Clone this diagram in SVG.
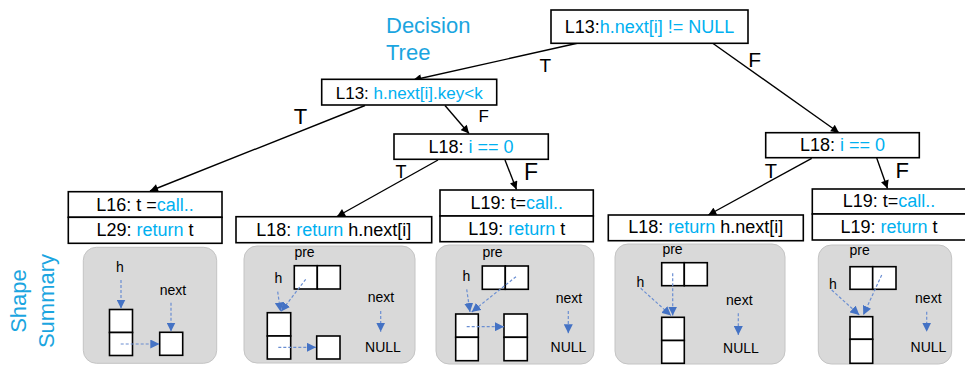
<svg xmlns="http://www.w3.org/2000/svg" width="965" height="366" viewBox="0 0 965 366">
  <style>
    text { font-family: "Liberation Sans", Arial, sans-serif; }
    .box { fill: #ffffff; stroke: #000000; stroke-width: 1.6; }
    .code { font-size: 18px; fill: #000000; }
    .kw { fill: #00b0f0; }
    .title { font-size: 22px; fill: #1ba5e0; }
    .edge { stroke: #000000; stroke-width: 1.4; fill: none; marker-end: url(#arrow); }
    .lbl { font-size: 20px; fill: #000000; text-anchor: middle; }
    .panel { fill: #d9d9d9; stroke: #c4c4c4; stroke-width: 1; }
    .cell { fill: #ffffff; stroke: #000000; stroke-width: 1.6; }
    .ptr { stroke: #6a8ed2; stroke-width: 1.2; stroke-dasharray: 3 2; fill: none; marker-end: url(#ptrhead); }
    .var { font-size: 14px; fill: #000000; text-anchor: middle; }
  </style>
  <defs>
    <marker id="arrow" viewBox="0 0 10 10" refX="10" refY="5" markerWidth="9" markerHeight="8" markerUnits="userSpaceOnUse" orient="auto">
      <path d="M0,0 L10,5 L0,10 z" fill="#000000"/>
    </marker>
    <marker id="ptrhead" viewBox="0 0 10 10" refX="10" refY="5" markerWidth="9" markerHeight="9" markerUnits="userSpaceOnUse" orient="auto">
      <path d="M0,0 L10,5 L0,10 z" fill="#4472c4"/>
    </marker>
  </defs>

  <!-- headings -->
  <text class="title" x="386" y="33.3">Decision</text>
  <text class="title" x="386" y="60">Tree</text>
  <text class="title" transform="translate(26,301) rotate(-90)" text-anchor="middle">Shape</text>
  <text class="title" transform="translate(54,301) rotate(-90)" text-anchor="middle">Summary</text>

  <!-- tree edges -->
  <g id="edges">
    <line class="edge" x1="577.3" y1="43.3" x2="413.3" y2="80"/>
    <line class="edge" x1="712.7" y1="43.3" x2="839" y2="132.7"/>
    <line class="edge" x1="365" y1="105.5" x2="150" y2="191"/>
    <line class="edge" x1="445" y1="105.5" x2="469" y2="133.5"/>
    <line class="edge" x1="438" y1="160" x2="337" y2="216.5"/>
    <line class="edge" x1="505" y1="160" x2="516.5" y2="189.5"/>
    <line class="edge" x1="811.7" y1="158.3" x2="708.3" y2="215"/>
    <line class="edge" x1="876.7" y1="158" x2="887.5" y2="188.5"/>
    <text class="lbl" x="545.3" y="71.7" style="font-size:19px">T</text>
    <text class="lbl" x="754.6" y="66.7" style="font-size:21px">F</text>
    <text class="lbl" x="300.5" y="124" style="font-size:22px">T</text>
    <text class="lbl" x="483.8" y="121.7" style="font-size:17px">F</text>
    <text class="lbl" x="401" y="178" style="font-size:18px">T</text>
    <text class="lbl" x="531" y="180" style="font-size:23px">F</text>
    <text class="lbl" x="770.8" y="178" style="font-size:20px">T</text>
    <text class="lbl" x="902.3" y="178" style="font-size:22px">F</text>
  </g>

  <!-- decision nodes -->
  <g id="n-root">
    <rect class="box" x="551" y="10" width="197" height="33.3"/>
    <text class="code" x="649.5" y="33.3" text-anchor="middle">L13:<tspan class="kw">h.next[i] != NULL</tspan></text>
  </g>
  <g id="n-key">
    <rect class="box" x="321.7" y="79.3" width="175" height="25.7"/>
    <text class="code" x="409.2" y="98.5" text-anchor="middle" style="font-size:17px">L13: <tspan class="kw">h.next[i].key&lt;k</tspan></text>
  </g>
  <g id="n-i0-left">
    <rect class="box" x="394" y="134" width="154.3" height="25.3"/>
    <text class="code" x="471" y="152.7" text-anchor="middle">L18: <tspan class="kw">i == 0</tspan></text>
  </g>
  <g id="n-i0-right">
    <rect class="box" x="765.7" y="132.7" width="153.6" height="25"/>
    <text class="code" x="842.5" y="151" text-anchor="middle">L18: <tspan class="kw">i == 0</tspan></text>
  </g>

  <!-- leaf nodes -->
  <g id="n-call-a">
    <rect class="box" x="68.3" y="191.7" width="153.7" height="25.6"/>
    <rect class="box" x="68.3" y="217.3" width="153.7" height="26"/>
    <text class="code" x="145" y="210.7" text-anchor="middle">L16: t =<tspan class="kw">call..</tspan></text>
    <text class="code" x="145" y="236" text-anchor="middle">L29: <tspan class="kw">return</tspan> t</text>
  </g>
  <g id="n-ret-a">
    <rect class="box" x="236" y="216.7" width="195.7" height="26"/>
    <text class="code" x="333.8" y="236" text-anchor="middle">L18: <tspan class="kw">return</tspan> h.next[i]</text>
  </g>
  <g id="n-call-b">
    <rect class="box" x="440" y="190" width="153.3" height="26"/>
    <rect class="box" x="440" y="216" width="153.3" height="25.7"/>
    <text class="code" x="516.7" y="209.3" text-anchor="middle">L19: t=<tspan class="kw">call..</tspan></text>
    <text class="code" x="516.7" y="235" text-anchor="middle">L19: <tspan class="kw">return</tspan> t</text>
  </g>
  <g id="n-ret-b">
    <rect class="box" x="608.3" y="215" width="195" height="25.7"/>
    <text class="code" x="705.8" y="233.3" text-anchor="middle">L18: <tspan class="kw">return</tspan> h.next[i]</text>
  </g>
  <g id="n-call-c">
    <rect class="box" x="812.3" y="189" width="154" height="25"/>
    <rect class="box" x="812.3" y="214" width="154" height="26"/>
    <text class="code" x="889" y="207.3" text-anchor="middle">L19: t=<tspan class="kw">call..</tspan></text>
    <text class="code" x="889" y="232.7" text-anchor="middle">L19: <tspan class="kw">return</tspan> t</text>
  </g>

  <!-- shape summaries -->
  <g id="shape-1">
    <rect class="panel" x="83.3" y="247.3" width="133.4" height="116" rx="13"/>
    <text class="var" x="120" y="271.7">h</text>
    <text class="var" x="173" y="295">next</text>
    <rect class="cell" x="109.5" y="309.5" width="23" height="23"/>
    <rect class="cell" x="109.5" y="332.5" width="23" height="23"/>
    <rect class="cell" x="159.7" y="332.3" width="23" height="23"/>
    <line class="ptr" x1="121" y1="280" x2="121" y2="308.5"/>
    <line class="ptr" x1="171" y1="302.7" x2="171" y2="331.5"/>
    <line class="ptr" x1="120.7" y1="344" x2="159.3" y2="344"/>
  </g>
  <g id="shape-2">
    <rect class="panel" x="244" y="246" width="171" height="117" rx="13"/>
    <text class="var" x="304.5" y="256.7">pre</text>
    <text class="var" x="278.3" y="283.3">h</text>
    <text class="var" x="381" y="301.7">next</text>
    <text class="var" x="383" y="352.3">NULL</text>
    <rect class="cell" x="294.3" y="265.7" width="23" height="23.3"/>
    <rect class="cell" x="317.3" y="265.7" width="23" height="23.3"/>
    <rect class="cell" x="267.3" y="312.7" width="23.4" height="23.3"/>
    <rect class="cell" x="267.3" y="336" width="23.4" height="23"/>
    <rect class="cell" x="316.7" y="336" width="23.3" height="23"/>
    <line class="ptr" x1="277.7" y1="291.7" x2="280.5" y2="311.5"/>
    <line class="ptr" x1="305.7" y1="279.3" x2="281" y2="311.5"/>
    <line class="ptr" x1="278.3" y1="347.3" x2="316" y2="347.3"/>
    <line class="ptr" x1="380.7" y1="311" x2="380.7" y2="331.7"/>
  </g>
  <g id="shape-3">
    <rect class="panel" x="436" y="245" width="158" height="119" rx="13"/>
    <text class="var" x="492.5" y="256.7">pre</text>
    <text class="var" x="466.3" y="280.7">h</text>
    <text class="var" x="569" y="303.3">next</text>
    <text class="var" x="568.5" y="352.3">NULL</text>
    <rect class="cell" x="482.3" y="266" width="23" height="23.3"/>
    <rect class="cell" x="505.3" y="266" width="23" height="23.3"/>
    <rect class="cell" x="455.7" y="314" width="22.6" height="23.3"/>
    <rect class="cell" x="455.7" y="337.3" width="22.6" height="23.4"/>
    <rect class="cell" x="504" y="314" width="23.3" height="23.3"/>
    <rect class="cell" x="504" y="337.3" width="23.3" height="23.4"/>
    <line class="ptr" x1="466.7" y1="289.3" x2="470" y2="312"/>
    <line class="ptr" x1="516" y1="276.7" x2="471.7" y2="312"/>
    <line class="ptr" x1="466.7" y1="326.7" x2="504" y2="326.7"/>
    <line class="ptr" x1="568.3" y1="311" x2="568.3" y2="333.3"/>
  </g>
  <g id="shape-4">
    <rect class="panel" x="615" y="244" width="170" height="120" rx="13"/>
    <text class="var" x="672.5" y="254.3">pre</text>
    <text class="var" x="640.3" y="286.7">h</text>
    <text class="var" x="739.3" y="305">next</text>
    <text class="var" x="741" y="353.3">NULL</text>
    <rect class="cell" x="661.7" y="262.7" width="22.6" height="23"/>
    <rect class="cell" x="684.3" y="262.7" width="23" height="23"/>
    <rect class="cell" x="661.7" y="317.3" width="22.6" height="23.2"/>
    <rect class="cell" x="661.7" y="340.5" width="22.6" height="22.8"/>
    <line class="ptr" x1="640.7" y1="288.3" x2="671" y2="315.5"/>
    <line class="ptr" x1="672.7" y1="273.3" x2="672.7" y2="315.5"/>
    <line class="ptr" x1="738.3" y1="313.3" x2="738.3" y2="335"/>
  </g>
  <g id="shape-5">
    <rect class="panel" x="818.3" y="245" width="133.4" height="119" rx="13"/>
    <text class="var" x="859.7" y="255">pre</text>
    <text class="var" x="833" y="289.3">h</text>
    <text class="var" x="928.3" y="303.3">next</text>
    <text class="var" x="928.5" y="351.7">NULL</text>
    <rect class="cell" x="850" y="266.7" width="22.7" height="22.6"/>
    <rect class="cell" x="872.7" y="266.7" width="23.3" height="22.6"/>
    <rect class="cell" x="850" y="316.7" width="22.7" height="22.6"/>
    <rect class="cell" x="850" y="339.3" width="22.7" height="24"/>
    <line class="ptr" x1="831.7" y1="290" x2="859.3" y2="315"/>
    <line class="ptr" x1="881.7" y1="275" x2="863.3" y2="315"/>
    <line class="ptr" x1="926.7" y1="311.7" x2="926.7" y2="331.7"/>
  </g>
</svg>
